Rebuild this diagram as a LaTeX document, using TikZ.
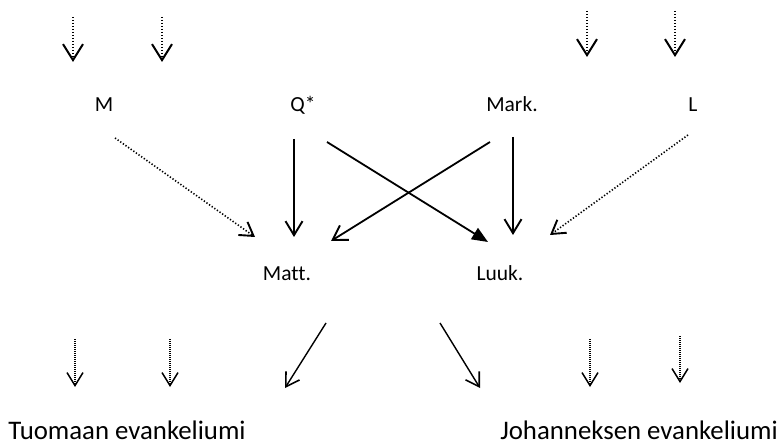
\documentclass[tikz,border=0pt]{standalone}
\usepackage{fontspec}
\setmainfont{Carlito}[Ligatures=NoCommon]
\usetikzlibrary{arrows.meta}
\begin{document}
\begin{tikzpicture}[x=1pt,y=-1pt,
  lbl/.style={inner sep=0pt,anchor=base,font=\fontsize{21.5}{24}\selectfont},
  big/.style={inner sep=0pt,anchor=base,font=\fontsize{26.8}{30}\selectfont},
  solidarrow/.style={line width=1.8pt,-{Straight Barb[length=14pt,width=17pt,line width=1.9pt]}},
  filledarrow/.style={line width=1.8pt,-{Triangle[length=16pt,width=13pt]}},
  dotarrow/.style={line width=1.8pt,dash pattern=on 1.4pt off 1.6pt,-{Straight Barb[length=16pt,width=20pt,line width=2pt]}},
  dotarrowmid/.style={line width=1.6pt,dash pattern=on 1.3pt off 1.9pt,-{Straight Barb[length=13pt,width=16pt,line width=1.9pt]}},
  dotarrowsmall/.style={line width=1.1pt,dash pattern=on 0.9pt off 1.1pt,-{Straight Barb[length=13pt,width=16pt,line width=1.5pt]}},
  thinarrow/.style={line width=1.4pt,-{Straight Barb[length=13pt,width=16pt,line width=1.6pt]}}
]
\useasboundingbox (0,0) rectangle (784,446);
% labels
\node[lbl] (M) at (104,112) {M};
\node[lbl] (Q) at (303,112) {Q*};
\node[lbl] (Mark) at (512,112) {Mark.};
\node[lbl] (L) at (693,112) {L};
\node[lbl] (Matt) at (287,280) {Matt.};
\node[lbl] (Luuk) at (500,280) {Luuk.};
\node[big] (Tuo) at (127,439) {Tuomaan evankeliumi};
\node[big] (Joh) at (639,439) {Johanneksen evankeliumi};
% top incoming arrows
\coordinate (t1s) at (73,17);  \coordinate (t1e) at (73,62);
\coordinate (t2s) at (162,17); \coordinate (t2e) at (162,62);
\coordinate (t3s) at (587,11); \coordinate (t3e) at (587,57);
\coordinate (t4s) at (675,11); \coordinate (t4e) at (675,57);
\draw[dotarrow] (t1s) -- (t1e);
\draw[dotarrow] (t2s) -- (t2e);
\draw[dotarrow] (t3s) -- (t3e);
\draw[dotarrow] (t4s) -- (t4e);
% middle arrows
\coordinate (Ms) at (115,138);   \coordinate (Me) at (255,237);
\coordinate (Qd1) at (294,139);  \coordinate (Qd2) at (294,237);
\coordinate (Qx1) at (327,142);  \coordinate (Qx2) at (488,242);
\coordinate (Kx1) at (490,142);  \coordinate (Kx2) at (331,241);
\coordinate (Kd1) at (513,137);  \coordinate (Kd2) at (513,235);
\coordinate (Ls) at (688,135);   \coordinate (Le) at (550,235);
\draw[dotarrowmid] (Ms) -- (Me);
\draw[solidarrow] (Qd1) -- (Qd2);
\draw[filledarrow] (Qx1) -- (Qx2);
\draw[solidarrow] (Kx1) -- (Kx2);
\draw[solidarrow] (Kd1) -- (Kd2);
\draw[dotarrowmid] (Ls) -- (Le);
% bottom arrows
\coordinate (b1s) at (75,339);  \coordinate (b1e) at (75,387);
\coordinate (b2s) at (170,339); \coordinate (b2e) at (170,387);
\coordinate (b3s) at (326,323); \coordinate (b3e) at (285,388);
\coordinate (b4s) at (440,323); \coordinate (b4e) at (480,388);
\coordinate (b5s) at (590,339); \coordinate (b5e) at (590,387);
\coordinate (b6s) at (680,336); \coordinate (b6e) at (680,383);
\draw[dotarrowsmall] (b1s) -- (b1e);
\draw[dotarrowsmall] (b2s) -- (b2e);
\draw[thinarrow] (b3s) -- (b3e);
\draw[thinarrow] (b4s) -- (b4e);
\draw[dotarrowsmall] (b5s) -- (b5e);
\draw[dotarrowsmall] (b6s) -- (b6e);
\end{tikzpicture}
\end{document}
